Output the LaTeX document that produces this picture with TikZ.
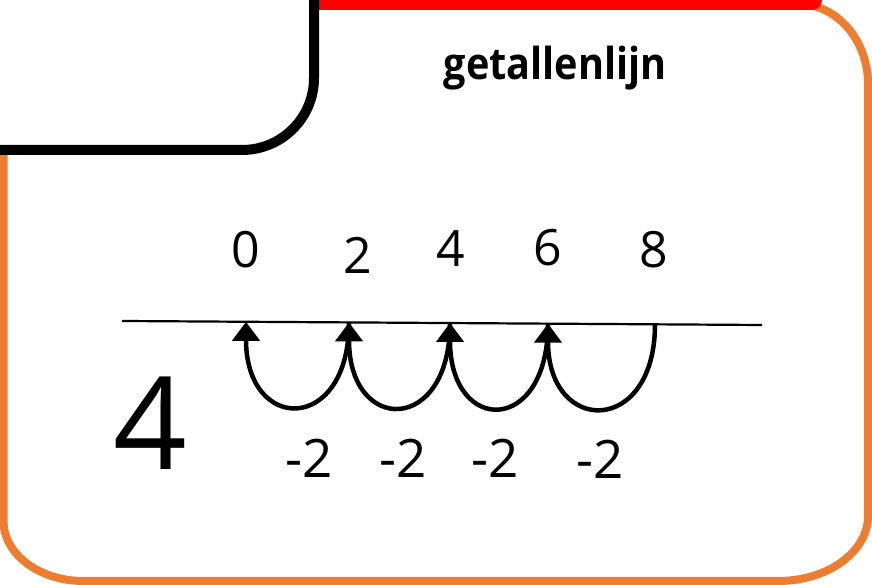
\documentclass[tikz,border=0pt]{standalone}
\usepackage{fontspec}
\setmainfont{Open Sans}
\newfontfamily\titlefont[FakeStretch=0.9]{Open Sans}
\usetikzlibrary{arrows.meta, calc}
\definecolor{frameorange}{HTML}{ED7D31}

\begin{document}
\begin{tikzpicture}[x=1pt, y=1pt,
  digit/.style={font=\fontsize{50}{54}\selectfont, inner sep=0pt},
  jumplbl/.style={font=\fontsize{53}{57}\selectfont, inner sep=0pt},
  jump/.style={line width=4.5pt, -{Triangle[width=27pt,length=19pt]}}]
\useasboundingbox (0,0) rectangle (872,585);
\clip (0,0) rectangle (872,585);

% Frame
\draw[frameorange, line width=8pt] (3.5,470) -- (3.5,64)
  arc[start angle=180, end angle=270, x radius=80, y radius=60] -- (778,4)
  arc[start angle=270, end angle=360, x radius=90, y radius=65] -- (868,501)
  arc[start angle=0, end angle=90, x radius=70, y radius=80] -- (400,581);
\fill[red] (318,575) -- (812,575) arc[start angle=270, end angle=360, radius=10] -- (822,600) -- (318,600) -- cycle;
\draw[line width=10pt, fill=white, rounded corners=72pt] (-100,435) -- (314,435) -- (314,700) -- (-100,700) -- cycle;

% Title
\node[font=\titlefont\bfseries\fontsize{44}{48}\selectfont, anchor=base] (title) at (555,505) {getallenlijn};

% Number line
\coordinate (lnL) at (122,264);
\coordinate (lnR) at (762,260);
\draw[line width=2.2pt] (lnL) -- (lnR);
\coordinate (p0) at (246,263.2);
\coordinate (p2) at (349,262.6);
\coordinate (p4) at (450,262);
\coordinate (p6) at (548,261.3);
\coordinate (p8) at (655,260.7);

% Numbers above
\node[digit] (n0) at (246,335) {0};
\node[digit] (n2) at (358,330) {2};
\node[digit] (n4) at (451,336) {4};
\node[digit] (n6) at (548,337) {6};
\node[digit] (n8) at (654,335) {8};

% Jumps back
\foreach \a/\b in {8/6, 6/4, 4/2, 2/0}
  \draw[jump] (p\a) .. controls +(0,-112) and +(0,-112) .. (p\b);

\node[jumplbl] (j1) at (309,127) {-2};
\node[jumplbl] (j2) at (403,127) {-2};
\node[jumplbl] (j3) at (495,127) {-2};
\node[jumplbl] (j4) at (600,126) {-2};

% Start number
\node[font=\fontsize{129}{133}\selectfont, inner sep=0pt] (start) at (150,162) {4};
\end{tikzpicture}
\end{document}
